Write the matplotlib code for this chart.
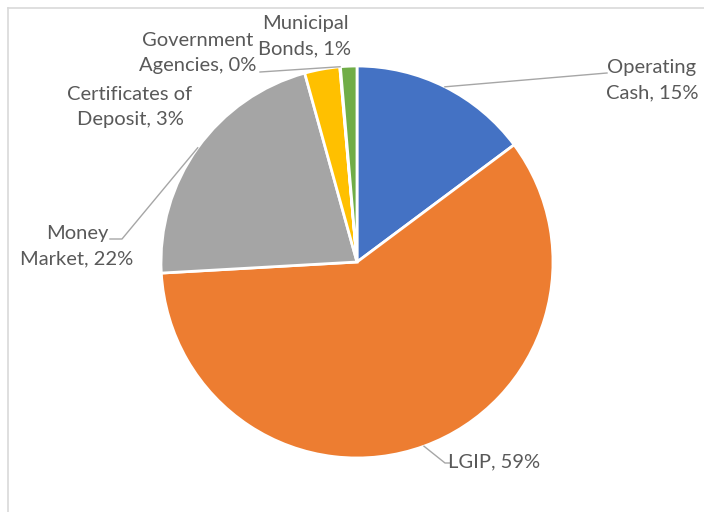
import numpy as np
import matplotlib.pyplot as plt

# portfolio allocation (percent)
categories = ['Operating\nCash', 'LGIP', 'Money\nMarket', 'Certificates of\nDeposit',
              'Government\nAgencies', 'Municipal\nBonds']
values = [14.8, 59.3, 21.6, 2.9, 0.05, 1.35]
colors = ['#4472C4', '#ED7D31', '#A5A5A5', '#FFC000', '#5B9BD5', '#70AD47']

W, H = 704, 512
fig = plt.figure(figsize=(W / 100, H / 100), dpi=100)
ax = fig.add_axes([0, 0, 1, 1])

cx, cy, r = 357, H - 262, 196
wedges, _ = ax.pie(values, colors=colors, startangle=90, counterclock=False,
                   center=(cx, cy), radius=r, frame=True,
                   wedgeprops=dict(edgecolor='white', linewidth=2))
ax.set_xlim(0, W)
ax.set_ylim(0, H)
ax.axis('off')

# chart area border (cut off on right / bottom)
ax.plot([8, 8], [0, H - 8], color='#D9D9D9', lw=1.2)
ax.plot([8, W], [H - 8, H - 8], color='#D9D9D9', lw=1.2)

# label centres (image pixel coords) and leader paths after the wedge edge
label_pos = [(652, 80), (494, 462), (77, 246), (130, 107), (198, 53), (305, 36)]
leaders = [[(607, 73)], [(445, 463), (450, 463)], [(122, 239), (110, 239)],
           None, [(260, 72)], None]

total = sum(values)
for w, name, v, pos, lead in zip(wedges, categories, values, label_pos, leaders):
    txt = f"{name}, {round(v / total * 100):.0f}%"
    ax.text(pos[0], H - pos[1], txt, ha='center', va='center', fontsize=14.5,
            family='Lato', color='#595959', linespacing=1.6)
    if lead:
        mid = np.deg2rad((w.theta1 + w.theta2) / 2)
        xs = [cx + r * np.cos(mid)] + [p[0] for p in lead]
        ys = [cy + r * np.sin(mid)] + [H - p[1] for p in lead]
        ax.plot(xs, ys, color='#A6A6A6', lw=1)

plt.savefig('out.png', dpi=100)
